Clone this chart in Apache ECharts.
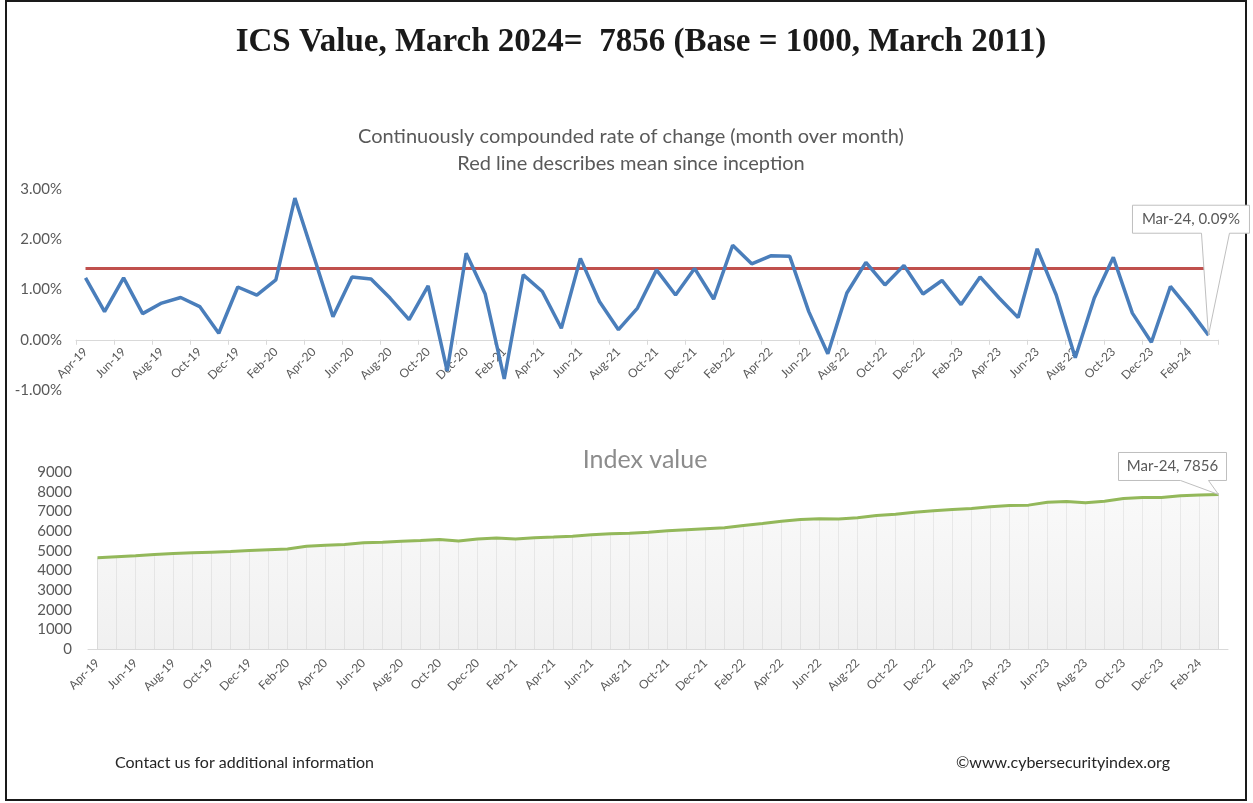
<!DOCTYPE html>
<html><head><meta charset="utf-8">
<script src="https://cdn.jsdelivr.net/npm/echarts@6/dist/echarts.min.js"></script>
<style>html,body{margin:0;padding:0;background:#fff;}#c{width:1253px;height:803px;}</style>
</head><body><div id="c"></div>
<script>
const months = ['Apr-19','May-19','Jun-19','Jul-19','Aug-19','Sep-19','Oct-19','Nov-19','Dec-19','Jan-20',
'Feb-20','Mar-20','Apr-20','May-20','Jun-20','Jul-20','Aug-20','Sep-20','Oct-20','Nov-20',
'Dec-20','Jan-21','Feb-21','Mar-21','Apr-21','May-21','Jun-21','Jul-21','Aug-21','Sep-21',
'Oct-21','Nov-21','Dec-21','Jan-22','Feb-22','Mar-22','Apr-22','May-22','Jun-22','Jul-22',
'Aug-22','Sep-22','Oct-22','Nov-22','Dec-22','Jan-23','Feb-23','Mar-23','Apr-23','May-23',
'Jun-23','Jul-23','Aug-23','Sep-23','Oct-23','Nov-23','Dec-23','Jan-24','Feb-24','Mar-24'];
// monthly continuously compounded rate of change, in percent
const rateValues = [1.23,0.56,1.23,0.52,0.73,0.84,0.66,0.13,1.05,0.89,
1.19,2.82,1.65,0.46,1.25,1.21,0.83,0.40,1.07,-0.62,
1.72,0.91,-0.78,1.29,0.96,0.23,1.62,0.76,0.20,0.63,
1.39,0.89,1.42,0.81,1.88,1.51,1.67,1.66,0.56,-0.28,
0.93,1.54,1.09,1.48,0.91,1.18,0.70,1.25,0.83,0.44,
1.81,0.89,-0.36,0.83,1.64,0.53,-0.05,1.06,0.60,0.09];
const meanRate = 1.42;
const indexValues = [4640,4690,4740,4800,4850,4890,4925,4960,5010,5045,
5080,5225,5280,5310,5400,5430,5480,5515,5570,5490,
5590,5640,5595,5660,5690,5735,5805,5855,5890,5940,
6010,6060,6110,6160,6280,6380,6495,6585,6620,6610,
6670,6790,6855,6955,7025,7095,7145,7230,7295,7315,
7460,7500,7435,7515,7650,7700,7700,7790,7825,7856];
const rateTicks = [-1,0,1,2,3];
const indexTicks = [0,1000,2000,3000,4000,5000,6000,7000,8000,9000];

const FONT = 'Lato';
const GRAY = '#595959';
const chart = echarts.init(document.getElementById('c'), null, {renderer:'canvas'});

const rMin = rateTicks[0], rMax = rateTicks[rateTicks.length-1];
const topGridH = 201;
// place the category axis at the zero line
const zeroOffset = -topGridH * (0 - rMin) / (rMax - rMin);

const option = {
  backgroundColor:'#fff',
  animation:false,
  grid:[
    {left:76, right:35, top:189, height:topGridH, outerBoundsMode:'none', containLabel:false},
    {left:88, right:25, top:472, height:177, outerBoundsMode:'none', containLabel:false}
  ],
  xAxis:[
    {type:'category', gridIndex:0, data:months, boundaryGap:true, position:'bottom', offset:zeroOffset,
     axisLine:{onZero:false, lineStyle:{color:'#d9d9d9', width:1}},
     axisTick:{show:true, interval:1, length:5, lineStyle:{color:'#d9d9d9'}},
     axisLabel:{interval:1, rotate:45, color:GRAY, fontFamily:FONT, fontSize:12, margin:10, hideOverlap:false},
     splitLine:{show:false}},
    {type:'category', gridIndex:1, data:months, boundaryGap:true,
     axisLine:{lineStyle:{color:'#d9d9d9', width:1}},
     axisTick:{show:false},
     axisLabel:{interval:1, rotate:45, color:GRAY, fontFamily:FONT, fontSize:12, margin:12, hideOverlap:false},
     splitLine:{show:false}}
  ],
  yAxis:[
    {type:'value', gridIndex:0, min:rMin, max:rMax, interval:1,
     axisLine:{show:false}, axisTick:{show:false}, splitLine:{show:false},
     axisLabel:{color:GRAY, fontFamily:FONT, fontSize:15, margin:14, formatter:v=>v.toFixed(2)+'%'}},
    {type:'value', gridIndex:1, min:indexTicks[0], max:indexTicks[indexTicks.length-1], interval:1000,
     axisLine:{show:false}, axisTick:{show:false}, splitLine:{show:false},
     axisLabel:{color:GRAY, fontFamily:FONT, fontSize:15, margin:16, formatter:v=>String(v)}}
  ],
  series:[
    {type:'line', xAxisIndex:0, yAxisIndex:0, data:rateValues, symbol:'none', z:3,
     lineStyle:{color:'#4A7EBB', width:3.5},
     markLine:{silent:true, symbol:'none', label:{show:false}, z:2,
       lineStyle:{color:'#C0504D', width:3, type:'solid'},
       data:[[{xAxis:months[0], yAxis:meanRate},{xAxis:months[months.length-1], yAxis:meanRate}]]}},
    {type:'bar', xAxisIndex:1, yAxisIndex:1, data:indexValues, barWidth:1, z:1,
     itemStyle:{color:'#d4d4d4'}, silent:true},
    {type:'line', xAxisIndex:1, yAxisIndex:1, data:indexValues, symbol:'none', z:3,
     lineStyle:{color:'#93B85A', width:3},
     areaStyle:{origin:'start', color:new echarts.graphic.LinearGradient(0,0,0,1,[
       {offset:0,color:'rgba(246,246,246,0.9)'},{offset:1,color:'rgba(232,232,232,0.9)'}])}}
  ]
};
chart.setOption(option);

const last = months.length-1;
const p1 = chart.convertToPixel({xAxisIndex:0, yAxisIndex:0}, [months[last], rateValues[last]]);
const p2 = chart.convertToPixel({xAxisIndex:1, yAxisIndex:1}, [months[last], indexValues[last]]);

function callout(p, l, r, t, b, tl, tr, text){
  return [
    {type:'polygon', z:50, shape:{points:[[l,t],[r,t],[r,b],[tr,b],[p[0],p[1]],[tl,b],[l,b]]},
     style:{fill:'#fff', stroke:'#bfbfbf', lineWidth:1}},
    {type:'text', z:51, x:(l+r)/2, y:(t+b)/2,
     style:{text:text, fill:GRAY, font:'15px '+FONT, textAlign:'center', textVerticalAlign:'middle'}}
  ];
}

const g = [
  {type:'rect', shape:{x:6, y:1, width:1240, height:799}, style:{fill:'none', stroke:'#1a1a1a', lineWidth:2}, z:0},
  {type:'text', x:641, y:42, style:{text:'ICS Value, March 2024=  7856 (Base = 1000, March 2011)', fill:'#1a1a1a',
    font:'bold 33px "Liberation Serif"', textAlign:'center', textVerticalAlign:'middle'}},
  {type:'text', x:631, y:137, style:{text:'Continuously compounded rate of change (month over month)', fill:GRAY,
    font:'20px '+FONT, textAlign:'center', textVerticalAlign:'middle'}},
  {type:'text', x:631, y:164, style:{text:'Red line describes mean since inception', fill:GRAY,
    font:'20px '+FONT, textAlign:'center', textVerticalAlign:'middle'}},
  {type:'text', x:645, y:460, style:{text:'Index value', fill:'#8c8c8c',
    font:'25px '+FONT, textAlign:'center', textVerticalAlign:'middle'}},
  {type:'text', x:115, y:763, style:{text:'Contact us for additional information', fill:'#262626',
    font:'16px '+FONT, textAlign:'left', textVerticalAlign:'middle'}},
  {type:'text', x:1170, y:763, style:{text:'\u00A9www.cybersecurityindex.org', fill:'#262626',
    font:'16px '+FONT, textAlign:'right', textVerticalAlign:'middle'}}
].concat(
  callout(p1, p1[0]-76, p1[0]+41, p1[1]-130, p1[1]-102, p1[0]-7, p1[0]+21, 'Mar-24, 0.09%'),
  callout(p2, p2[0]-100, p2[0]+8, p2[1]-42, p2[1]-14, p2[0]-38, p2[0]-10, 'Mar-24, 7856')
);
chart.setOption({graphic:g});
</script></body></html>
